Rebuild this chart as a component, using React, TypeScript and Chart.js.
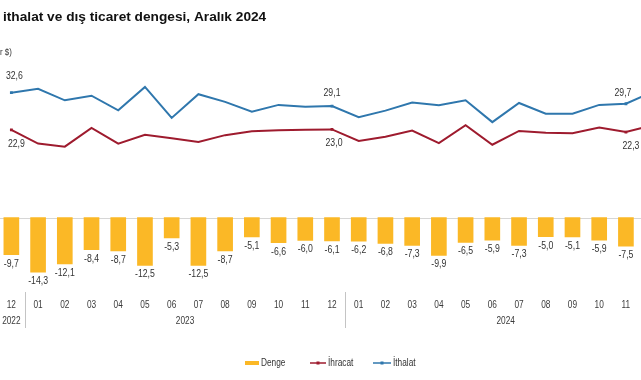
import React, { useEffect, useRef } from 'react';
import { Chart, registerables } from 'chart.js';

Chart.register(...registerables);

const months = ['12', '01', '02', '03', '04', '05', '06', '07', '08', '09', '10', '11', '12', '01', '02', '03', '04', '05', '06', '07', '08', '09', '10', '11', '12'];
const years = [
  { label: '2022', from: 0, to: 0 },
  { label: '2023', from: 1, to: 12 },
  { label: '2024', from: 13, to: 24 },
];
const denge = [-9.7, -14.3, -12.1, -8.4, -8.7, -12.5, -5.3, -12.5, -8.7, -5.1, -6.6, -6.0, -6.1, -6.2, -6.8, -7.3, -9.9, -6.5, -5.9, -7.3, -5.0, -5.1, -5.9, -7.5, -8.7];
const ihracat = [22.9, 19.3, 18.5, 23.4, 19.3, 21.6, 20.7, 19.7, 21.5, 22.5, 22.8, 22.9, 23.0, 20.0, 21.1, 22.7, 19.4, 24.1, 19.0, 22.6, 22.1, 22.0, 23.5, 22.3, 24.1];
const ithalat = [32.6, 33.6, 30.6, 31.8, 28.0, 34.1, 26.0, 32.2, 30.2, 27.6, 29.4, 28.9, 29.1, 26.2, 27.9, 30.0, 29.3, 30.6, 24.9, 29.9, 27.1, 27.1, 29.4, 29.7, 32.8];
const labeledIdx = [0, 12, 23, 24];
const titleText = 'ithalat ve dış ticaret dengesi, Aralık 2024';
const unitText = 'r $)';
const legendNames = ['Denge', 'İhracat', 'İthalat'];

const BAR = '#FBB826';
const RED = '#9E1B2E';
const BLUE = '#2F77AD';
const OFF = 10; // canvas shifted left by this many px
const FONT = '"Liberation Sans", Arial, sans-serif';
const SQUEEZE = 0.83;

const fmt = (v: number) => v.toFixed(1).replace('.', ',');

function narrowText(ctx: CanvasRenderingContext2D, text: string, x: number, y: number) {
  ctx.save();
  ctx.translate(x, y);
  ctx.scale(SQUEEZE, 1);
  ctx.fillText(text, 0, 0);
  ctx.restore();
}

const overlay = {
  id: 'overlay',
  beforeDatasetsDraw(chart: any) {
    const ctx = chart.ctx;
    const y = chart.scales.y.getPixelForValue(0);
    ctx.save();
    ctx.strokeStyle = '#D6D6D6';
    ctx.lineWidth = 1;
    ctx.beginPath();
    ctx.moveTo(0, Math.round(y) + 0.5);
    ctx.lineTo(chart.width, Math.round(y) + 0.5);
    ctx.stroke();
    ctx.restore();
  },
  afterDatasetsDraw(chart: any) {
    const ctx = chart.ctx;
    const xs = chart.scales.x;
    ctx.save();
    ctx.fillStyle = '#333';
    ctx.textAlign = 'center';
    ctx.textBaseline = 'middle';
    ctx.font = `10.5px ${FONT}`;
    // bar labels
    const barMeta = chart.getDatasetMeta(0);
    barMeta.data.forEach((el: any, i: number) => {
      narrowText(ctx, fmt(denge[i]), el.x, el.y + 9);
    });
    // line labels
    const ihrMeta = chart.getDatasetMeta(1);
    const ithMeta = chart.getDatasetMeta(2);
    const ithOff = [-17, -13, -11, -11];
    labeledIdx.forEach((i, k) => {
      const a = ithMeta.data[i];
      narrowText(ctx, fmt(ithalat[i]), a.x + (k === 0 ? 3 : k === 2 ? -3 : 0), a.y + ithOff[k]);
      const b = ihrMeta.data[i];
      narrowText(ctx, fmt(ihracat[i]), b.x + (k === 0 ? 5 : k === 2 ? 5 : 2), b.y + 14);
    });
    // month labels
    ctx.font = `10px ${FONT}`;
    ctx.fillStyle = '#3a3a3a';
    months.forEach((m, i) => {
      narrowText(ctx, m, xs.getPixelForValue(i), 305);
    });
    years.forEach((yr) => {
      const cx = (xs.getPixelForValue(yr.from) + xs.getPixelForValue(yr.to)) / 2;
      narrowText(ctx, yr.label, cx, 321);
    });
    // separators
    ctx.strokeStyle = '#C4C4C4';
    ctx.lineWidth = 1;
    [0, 12].forEach((i) => {
      const x = Math.round((xs.getPixelForValue(i) + xs.getPixelForValue(i + 1)) / 2) + 0.5;
      ctx.beginPath();
      ctx.moveTo(x, 292);
      ctx.lineTo(x, 328);
      ctx.stroke();
    });
    // title
    ctx.textAlign = 'left';
    ctx.fillStyle = '#111';
    ctx.font = `bold 13.7px ${FONT}`;
    ctx.fillText(titleText, OFF + 3, 17);
    ctx.font = `9.5px ${FONT}`;
    ctx.fillStyle = '#333';
    narrowText(ctx, unitText, OFF + 0, 52);
    // legend
    const ly = 363;
    ctx.fillStyle = BAR;
    ctx.fillRect(OFF + 245, ly - 2, 14, 4);
    ctx.fillStyle = '#333';
    ctx.font = `10px ${FONT}`;
    narrowText(ctx, legendNames[0], OFF + 261, ly);
    const drawLineItem = (x0: number, x1: number, color: string, text: string) => {
      ctx.strokeStyle = color;
      ctx.lineWidth = 1.5;
      ctx.beginPath();
      ctx.moveTo(OFF + x0, ly);
      ctx.lineTo(OFF + x1, ly);
      ctx.stroke();
      ctx.fillStyle = color;
      const mx = (x0 + x1) / 2;
      ctx.fillRect(OFF + mx - 1.5, ly - 1.5, 3, 3);
      ctx.fillStyle = '#333';
      narrowText(ctx, text, OFF + x1 + 2, ly);
    };
    drawLineItem(310, 326, RED, legendNames[1]);
    drawLineItem(373, 391, BLUE, legendNames[2]);
    ctx.restore();
  },
};

export default function App() {
  const ref = useRef<HTMLCanvasElement | null>(null);
  useEffect(() => {
    if (!ref.current) return;
    const radii = months.map((_, i) => (labeledIdx.includes(i) ? 2 : 0));
    const chart = new Chart(ref.current, {
      type: 'bar',
      data: {
        labels: months.map((m, i) => `${m}-${i}`),
        datasets: [
          {
            type: 'bar',
            label: legendNames[0],
            data: denge,
            backgroundColor: BAR,
            barThickness: 15,
            order: 3,
          } as any,
          {
            type: 'line',
            label: legendNames[1],
            data: ihracat,
            borderColor: RED,
            backgroundColor: RED,
            borderWidth: 2,
            pointStyle: 'rect',
            pointRadius: radii,
            pointBorderWidth: 0,
            tension: 0,
            order: 1,
          },
          {
            type: 'line',
            label: legendNames[2],
            data: ithalat,
            borderColor: BLUE,
            backgroundColor: BLUE,
            borderWidth: 2,
            pointStyle: 'rect',
            pointRadius: radii,
            pointBorderWidth: 0,
            tension: 0,
            order: 2,
          },
        ],
      },
      options: {
        responsive: false,
        animation: false,
        layout: { padding: { left: 8, right: 14, top: 64.3, bottom: 85.9 } },
        scales: {
          x: { display: false, offset: true },
          y: { display: false, min: -20, max: 40 },
        },
        plugins: {
          legend: { display: false },
          tooltip: { enabled: false },
          title: { display: false },
        },
      },
      plugins: [overlay],
    });
    return () => chart.destroy();
  }, []);
  return (
    <div style={{ position: 'fixed', left: 0, top: 0, width: 641, height: 380, overflow: 'hidden', background: '#fff' }}>
      <canvas ref={ref} width={690} height={380} style={{ position: 'absolute', left: -OFF, top: 0, width: 690, height: 380 }} />
    </div>
  );
}
